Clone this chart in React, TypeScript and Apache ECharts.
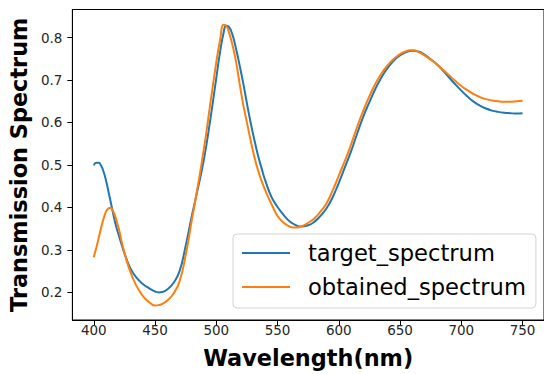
import React, { useEffect, useRef } from "react";
import * as echarts from "echarts";

const FONT = "'DejaVu Sans', 'Liberation Sans', sans-serif";

const xTicks = [400, 450, 500, 550, 600, 650, 700, 750];
const yTicks = [0.2, 0.3, 0.4, 0.5, 0.6, 0.7, 0.8];

const targetWl = [
  400, 402, 404, 406, 408, 410, 412, 414, 416, 418, 420, 423, 426, 430, 435, 440, 445, 450, 453, 456,
  460, 465, 470, 475, 480, 485, 490, 495, 500, 503, 506, 508, 510, 513, 516, 519, 522, 525, 528, 531,
  534, 537, 540, 545, 550, 555, 560, 565, 569, 575, 580, 585, 590, 595, 600, 605, 610, 615, 620, 625,
  630, 635, 640, 645, 650, 655, 660, 665, 670, 675, 680, 685, 690, 695, 700, 705, 710, 715, 720, 725,
  730, 735, 740, 745, 750,
];
const targetVal = [
  0.499, 0.505, 0.505, 0.498, 0.484, 0.463, 0.437, 0.41, 0.383, 0.358, 0.338, 0.31, 0.284, 0.256, 0.234, 0.22, 0.21, 0.202, 0.2, 0.201,
  0.207, 0.222, 0.25, 0.31, 0.38, 0.445, 0.515, 0.605, 0.705, 0.765, 0.812, 0.828, 0.826, 0.808, 0.775, 0.735, 0.692, 0.645, 0.6, 0.56,
  0.523, 0.492, 0.463, 0.425, 0.401, 0.382, 0.367, 0.358, 0.355, 0.358, 0.366, 0.38, 0.398, 0.424, 0.458, 0.495, 0.532, 0.574, 0.614, 0.648,
  0.68, 0.707, 0.729, 0.746, 0.758, 0.766, 0.769, 0.767, 0.76, 0.749, 0.737, 0.722, 0.706, 0.69, 0.675, 0.661, 0.649, 0.64, 0.633, 0.628,
  0.625, 0.623, 0.622, 0.621, 0.622,
];

const obtainedWl = [
  400, 402, 404, 406, 408, 410, 412, 413.5, 415, 417, 419, 421, 423, 426, 430, 434, 438, 442, 446, 450,
  453, 456, 460, 465, 470, 475, 480, 485, 490, 495, 500, 503, 506, 508, 510, 513, 516, 519, 522, 525,
  528, 531, 534, 537, 540, 545, 550, 555, 560, 563, 566, 570, 575, 580, 585, 590, 595, 600, 605, 610,
  615, 620, 625, 630, 635, 640, 645, 650, 655, 658, 661, 665, 670, 675, 680, 685, 690, 695, 700, 705,
  710, 715, 720, 725, 730, 735, 740, 745, 750,
];
const obtainedVal = [
  0.283, 0.305, 0.328, 0.353, 0.374, 0.39, 0.398, 0.399, 0.395, 0.383, 0.364, 0.343, 0.316, 0.283, 0.247, 0.22, 0.2, 0.185, 0.175, 0.169,
  0.17, 0.173, 0.181, 0.197, 0.226, 0.288, 0.37, 0.452, 0.54, 0.642, 0.742, 0.793, 0.83, 0.828, 0.815, 0.785, 0.745, 0.692, 0.642, 0.6,
  0.558, 0.52, 0.488, 0.462, 0.44, 0.408, 0.38, 0.364, 0.355, 0.353, 0.353, 0.356, 0.364, 0.374, 0.39, 0.41, 0.44, 0.475, 0.51, 0.548,
  0.59, 0.628, 0.662, 0.692, 0.716, 0.735, 0.75, 0.761, 0.768, 0.77, 0.77, 0.766, 0.758, 0.748, 0.737, 0.724, 0.711, 0.698, 0.686, 0.676,
  0.667, 0.66, 0.655, 0.652, 0.65, 0.649, 0.649, 0.65, 0.651,
];

const zip = (xs: number[], ys: number[]) => xs.map((x, i) => [x, ys[i]]);

export default function App() {
  const ref = useRef<HTMLDivElement>(null);
  useEffect(() => {
    const chart = echarts.init(ref.current!, null, { renderer: "svg" });
    chart.setOption({
      animation: false,
      backgroundColor: "#fff",
      grid: {
        left: 69,
        top: 9.5,
        bottom: 54,
        right: -3.8,
        show: true,
        borderColor: "#000",
        borderWidth: 1,
        backgroundColor: "#fff",
      },
      xAxis: {
        type: "value",
        min: 382.5,
        max: 767.5,
        name: "Wavelength(nm)",
        nameLocation: "middle",
        nameGap: 27,
        nameTextStyle: { fontFamily: FONT, fontSize: 22.4, fontWeight: "bold", color: "#000" },
        axisLine: { show: true, onZero: false, lineStyle: { color: "#000", width: 1 } },
        axisTick: { show: true, length: 5, customValues: xTicks, lineStyle: { color: "#000" } },
        axisLabel: {
          customValues: xTicks,
          margin: 3,
          fontFamily: FONT,
          fontSize: 13.5,
          color: "#262626",
        },
        splitLine: { show: false },
      },
      yAxis: {
        type: "value",
        min: 0.135,
        max: 0.866,
        name: "Transmission Spectrum",
        nameLocation: "middle",
        nameGap: 40,
        nameRotate: 90,
        nameTextStyle: { fontFamily: FONT, fontSize: 22.4, fontWeight: "bold", color: "#000" },
        axisLine: { show: true, onZero: false, lineStyle: { color: "#000", width: 1 } },
        axisTick: { show: true, length: 5, customValues: yTicks, lineStyle: { color: "#000" } },
        axisLabel: {
          customValues: yTicks,
          margin: 10,
          fontFamily: FONT,
          fontSize: 13.5,
          color: "#262626",
          formatter: (v: number) => v.toFixed(1),
        },
        splitLine: { show: false },
      },
      legend: {
        orient: "vertical",
        left: 233,
        top: 234,
        padding: [7, 10, 9, 9],
        backgroundColor: "rgba(255,255,255,0.8)",
        borderColor: "#d4d4d4",
        borderWidth: 1,
        borderRadius: 4,
        icon: "rect",
        itemWidth: 48,
        itemHeight: 2.2,
        itemGap: 10,
        textStyle: {
          fontFamily: FONT,
          fontSize: 22.6,
          color: "#000",
          lineHeight: 24,
          padding: [0, 0, 0, 13],
        },
        data: ["target_spectrum", "obtained_spectrum"],
      },
      series: [
        {
          name: "target_spectrum",
          type: "line",
          data: zip(targetWl, targetVal),
          smooth: 0.5,
          symbol: "none",
          lineStyle: { color: "#1f77b4", width: 2 },
          itemStyle: { color: "#1f77b4" },
        },
        {
          name: "obtained_spectrum",
          type: "line",
          data: zip(obtainedWl, obtainedVal),
          smooth: 0.5,
          symbol: "none",
          lineStyle: { color: "#ff7f0e", width: 2 },
          itemStyle: { color: "#ff7f0e" },
        },
      ],
    });
    return () => chart.dispose();
  }, []);
  return (
    <div
      ref={ref}
      style={{ position: "fixed", left: 0, top: 0, width: 544, height: 374, background: "#fff" }}
    />
  );
}
